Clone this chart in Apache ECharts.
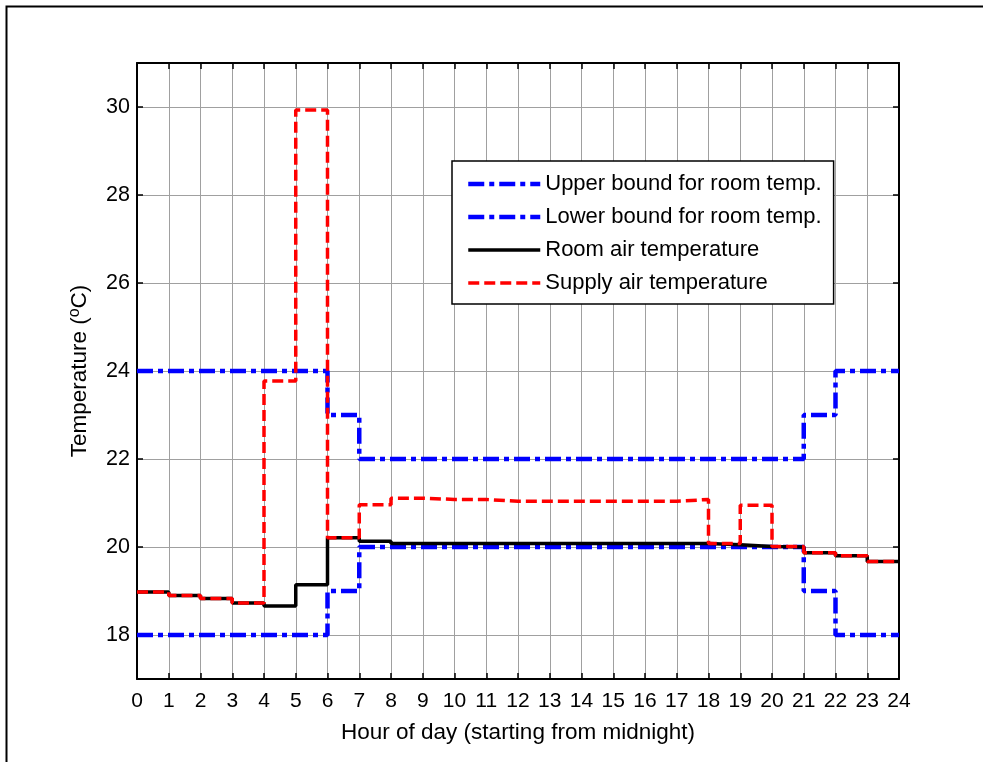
<!DOCTYPE html>
<html>
<head>
<meta charset="utf-8">
<script src="https://cdn.jsdelivr.net/npm/echarts@6/dist/echarts.min.js"></script>
<style>
  html, body { margin: 0; padding: 0; background: #ffffff; }
  #chart { width: 983px; height: 762px; }
</style>
</head>
<body>
<div id="chart"></div>
<script>
// Hour boundaries (0..24) and hourly setpoints / temperatures (one value per hour slot)
const hours = [0, 1, 2, 3, 4, 5, 6, 7, 8, 9, 10, 11, 12, 13, 14, 15, 16, 17, 18, 19, 20, 21, 22, 23, 24];
const tempTicks = [18, 20, 22, 24, 26, 28, 30];

const upperBound = [24, 24, 24, 24, 24, 24, 23, 22, 22, 22, 22, 22, 22, 22, 22, 22, 22, 22, 22, 22, 22, 23, 24, 24];
const lowerBound = [18, 18, 18, 18, 18, 18, 19, 20, 20, 20, 20, 20, 20, 20, 20, 20, 20, 20, 20, 20, 20, 19, 18, 18];
const roomAir = [18.98, 18.90, 18.83, 18.73, 18.66, 19.14, 20.21, 20.13, 20.08, 20.08, 20.08, 20.08,
                 20.08, 20.08, 20.08, 20.08, 20.08, 20.08, 20.05, 20.01, 20.00, 19.87, 19.80, 19.67];
const supplyAir = [18.98, 18.90, 18.83, 18.73, 23.77, 29.93, 20.21, 20.96, 21.11, 21.08, 21.08, 21.04,
                   21.04, 21.04, 21.04, 21.04, 21.04, 21.08, 20.08, 20.95, 20.01, 19.87, 19.80, 19.67];

const seriesNames = [
  'Upper bound for room temp.',
  'Lower bound for room temp.',
  'Room air temperature',
  'Supply air temperature'
];

// Each hourly value is held across its slot; the last value is repeated at hour 24.
function stepData(values) {
  return hours.map((h, i) => [h, values[Math.min(i, values.length - 1)]]);
}

const FONT = 'Liberation Sans, Arial, sans-serif';
const dashDot = [16, 5, 5, 5];
const dashed = [11, 5];
const BLUE_W = 4.5, BLACK_W = 3.5, RED_W = 3.5;

const chart = echarts.init(document.getElementById('chart'), null, { renderer: 'canvas' });

const option = {
  backgroundColor: '#ffffff',
  animation: false,
  textStyle: { fontFamily: FONT },
  graphic: [{
    type: 'rect',
    left: 4, top: 4,
    shape: { width: 1000, height: 800 },
    style: { fill: 'none', stroke: '#000', lineWidth: 2 },
    silent: true,
    z: 100
  }],
  grid: { left: 137, right: 84, top: 63, bottom: 83, containLabel: false },
  legend: {
    orient: 'vertical',
    left: 452, top: 161,
    data: [
      { name: seriesNames[0], lineStyle: { width: BLUE_W } },
      { name: seriesNames[1], lineStyle: { width: BLUE_W } },
      { name: seriesNames[2], lineStyle: { width: BLACK_W } },
      { name: seriesNames[3], lineStyle: { width: RED_W } }
    ],
    itemWidth: 72, itemHeight: 14, itemGap: 7,
    padding: [10, 12, 8, 14],
    itemStyle: { opacity: 0, borderWidth: 0 },
    backgroundColor: '#ffffff',
    borderColor: '#000', borderWidth: 1.5, borderRadius: 0,
    textStyle: { fontFamily: FONT, fontSize: 22, color: '#000', lineHeight: 26 },
    selectedMode: false,
    z: 10
  },
  xAxis: [{
    type: 'value', position: 'bottom',
    min: 0, max: 24, interval: 1,
    name: 'Hour of day (starting from midnight)',
    nameLocation: 'middle', nameGap: 42,
    nameTextStyle: { fontFamily: FONT, fontSize: 22.5, color: '#000' },
    axisLine: { show: true, onZero: false, lineStyle: { color: '#000', width: 2 } },
    axisTick: { show: true, inside: true, length: 6, lineStyle: { color: '#000', width: 1.5 } },
    axisLabel: { fontFamily: FONT, fontSize: 21, color: '#000', margin: 12 },
    splitLine: { show: true, lineStyle: { color: '#a0a0a0', width: 1 } }
  }, {
    type: 'value', position: 'top',
    min: 0, max: 24, interval: 1,
    axisLine: { show: true, onZero: false, lineStyle: { color: '#000', width: 2 } },
    axisTick: { show: true, inside: true, length: 6, lineStyle: { color: '#000', width: 1.5 } },
    axisLabel: { show: false },
    splitLine: { show: false }
  }],
  yAxis: [{
    type: 'value', position: 'left',
    min: 17, max: 31,
    name: 'Temperature (' + '{sup|o}' + 'C)',
    nameLocation: 'middle', nameGap: 44, nameRotate: 90,
    nameTextStyle: {
      fontFamily: FONT, fontSize: 22.5, color: '#000',
      rich: { sup: { fontFamily: FONT, fontSize: 16, color: '#000', verticalAlign: 'top', padding: [0, 0, 10, 0] } }
    },
    axisLine: { show: true, onZero: false, lineStyle: { color: '#000', width: 2 } },
    axisTick: { show: true, inside: true, length: 6, customValues: tempTicks, lineStyle: { color: '#000', width: 1.5 } },
    axisLabel: { fontFamily: FONT, fontSize: 21.5, color: '#000', margin: 7, customValues: tempTicks },
    splitLine: { show: true, lineStyle: { color: '#a0a0a0', width: 1 } }
  }, {
    type: 'value', position: 'right',
    min: 17, max: 31,
    axisLine: { show: true, onZero: false, lineStyle: { color: '#000', width: 2 } },
    axisTick: { show: true, inside: true, length: 6, customValues: tempTicks, lineStyle: { color: '#000', width: 1.5 } },
    axisLabel: { show: false },
    splitLine: { show: false }
  }],
  series: [{
    name: seriesNames[0], type: 'line', step: 'end', symbol: 'none',
    data: stepData(upperBound),
    lineStyle: { color: '#0000ff', width: BLUE_W, type: dashDot, cap: 'butt' },
    itemStyle: { color: '#0000ff' },
    z: 2
  }, {
    name: seriesNames[1], type: 'line', step: 'end', symbol: 'none',
    data: stepData(lowerBound),
    lineStyle: { color: '#0000ff', width: BLUE_W, type: dashDot, cap: 'butt' },
    itemStyle: { color: '#0000ff' },
    z: 2
  }, {
    name: seriesNames[2], type: 'line', step: 'end', symbol: 'none',
    data: stepData(roomAir),
    lineStyle: { color: '#000000', width: BLACK_W, type: 'solid' },
    itemStyle: { color: '#000000' },
    z: 3
  }, {
    name: seriesNames[3], type: 'line', step: 'end', symbol: 'none',
    data: stepData(supplyAir),
    lineStyle: { color: '#ff0000', width: RED_W, type: dashed, cap: 'butt' },
    itemStyle: { color: '#ff0000' },
    z: 4
  }]
};

chart.setOption(option);
</script>
</body>
</html>
